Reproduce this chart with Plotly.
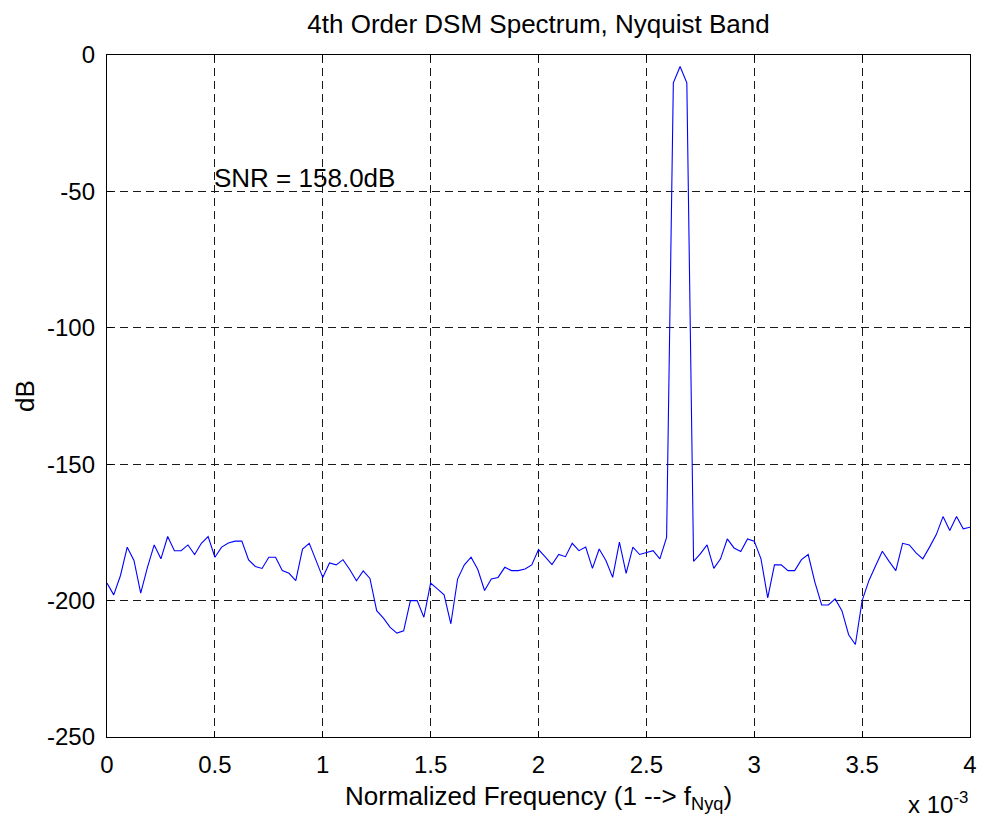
import plotly.graph_objects as go

# Spectrum magnitude (dB) of the 4th-order delta-sigma modulator output,
# one value per FFT bin across the lower part of the Nyquist band.
spectrum_db = [
    -193.6, -197.9, -190.8, -180.4, -185.3, -197.3, -187.8, -179.6, -184.7, -176.5,
    -181.7, -181.7, -179.6, -183.1, -179.0, -176.5, -184.1, -180.4, -178.9, -178.2,
    -178.2, -185.1, -187.5, -188.2, -184.1, -184.1, -189.0, -190.0, -192.7, -181.1,
    -179.0, -185.0, -191.5, -186.2, -186.9, -185.0, -188.6, -192.7, -189.1, -191.9,
    -203.7, -206.4, -209.8, -211.9, -211.1, -200.0, -200.0, -206.1, -193.6, -195.7,
    -197.9, -208.5, -192.1, -186.9, -184.1, -188.6, -196.3, -192.1, -191.5, -187.8,
    -189.0, -189.0, -188.4, -186.9, -181.3, -184.0, -186.8, -183.1, -183.9, -179.0,
    -181.7, -180.4, -188.2, -181.1, -185.3, -191.5, -178.6, -190.0, -180.4, -183.1,
    -182.5, -181.7, -184.7, -176.8, -10.2, -4.2, -10.2, -185.6, -182.9, -179.6,
    -188.2, -184.7, -177.4, -180.7, -182.0, -177.4, -178.2, -184.7, -199.0, -186.9,
    -186.9, -189.0, -189.0, -185.0, -183.1, -193.3, -201.6, -201.6, -199.4, -203.7,
    -212.5, -216.1, -200.0, -192.7, -187.2, -181.9, -185.6, -189.0, -179.0, -179.6,
    -182.5, -184.7, -180.4, -175.8, -169.2, -174.3, -169.2, -173.7, -173.1,
]

# FFT bin spacing in normalized frequency (1 -> f_Nyq)
BIN_WIDTH = 1.0 / 32000
freqs = [k * BIN_WIDTH for k in range(len(spectrum_db))]

x_tick_vals = [0, 0.5e-3, 1e-3, 1.5e-3, 2e-3, 2.5e-3, 3e-3, 3.5e-3, 4e-3]
x_tick_text = ["0", "0.5", "1", "1.5", "2", "2.5", "3", "3.5", "4"]
y_tick_vals = [-250, -200, -150, -100, -50, 0]
y_tick_text = ["-250", "-200", "-150", "-100", "-50", "0"]

snr_label = "SNR = 158.0dB"
snr_pos = (0.5e-3, -45)

FONT = "Liberation Sans, Arial, Helvetica, sans-serif"
GRID = "#1a1a1a"

fig = go.Figure()
fig.add_trace(go.Scatter(
    x=freqs, y=spectrum_db, mode="lines",
    line=dict(color="#0000ff", width=1.1),
    hoverinfo="skip", showlegend=False,
))

axis_common = dict(
    showline=True, linecolor="black", linewidth=1.3, mirror="ticks",
    ticks="inside", ticklen=6, tickcolor="black", tickwidth=1,
    showgrid=True, gridcolor=GRID, gridwidth=1, griddash="8px,5px",
    zeroline=False, tickfont=dict(family=FONT, size=24, color="black"),
    ticklabelstandoff=6,
)

fig.update_xaxes(range=[0, 4e-3], tickmode="array",
                 tickvals=x_tick_vals, ticktext=x_tick_text, **axis_common)
fig.update_yaxes(range=[-250, 0], tickmode="array",
                 tickvals=y_tick_vals, ticktext=y_tick_text, **axis_common)

fig.update_layout(
    width=984, height=823,
    margin=dict(l=107, r=7, t=55, b=86),
    paper_bgcolor="white", plot_bgcolor="white",
    font=dict(family=FONT, color="black"),
    title=dict(text="4th Order DSM Spectrum, Nyquist Band",
               font=dict(family=FONT, size=26, color="black"),
               x=0.5, xref="paper", xanchor="center",
               y=1 - 24 / 823, yref="container", yanchor="middle"),
    annotations=[
        dict(text=snr_label, x=snr_pos[0], y=snr_pos[1], xref="x", yref="y",
             xanchor="left", yanchor="middle", showarrow=False, xshift=-3,
             font=dict(family=FONT, size=26, color="black")),
        dict(text="Normalized Frequency (1 --> f<sub>Nyq</sub>)",
             x=0.5, y=-0.062, xref="paper", yref="paper",
             xanchor="center", yanchor="top", showarrow=False,
             font=dict(family=FONT, size=26, color="black")),
        dict(text="dB", textangle=-90, x=-0.095, y=0.5,
             xref="paper", yref="paper", xanchor="center", yanchor="middle",
             showarrow=False, font=dict(family=FONT, size=26, color="black")),
        dict(text="x 10<sup>-3</sup>", x=1.0, y=-0.1217,
             xref="paper", yref="paper", xanchor="right", yanchor="bottom",
             showarrow=False, font=dict(family=FONT, size=24, color="black")),
    ],
)

fig.write_html("out.html")
